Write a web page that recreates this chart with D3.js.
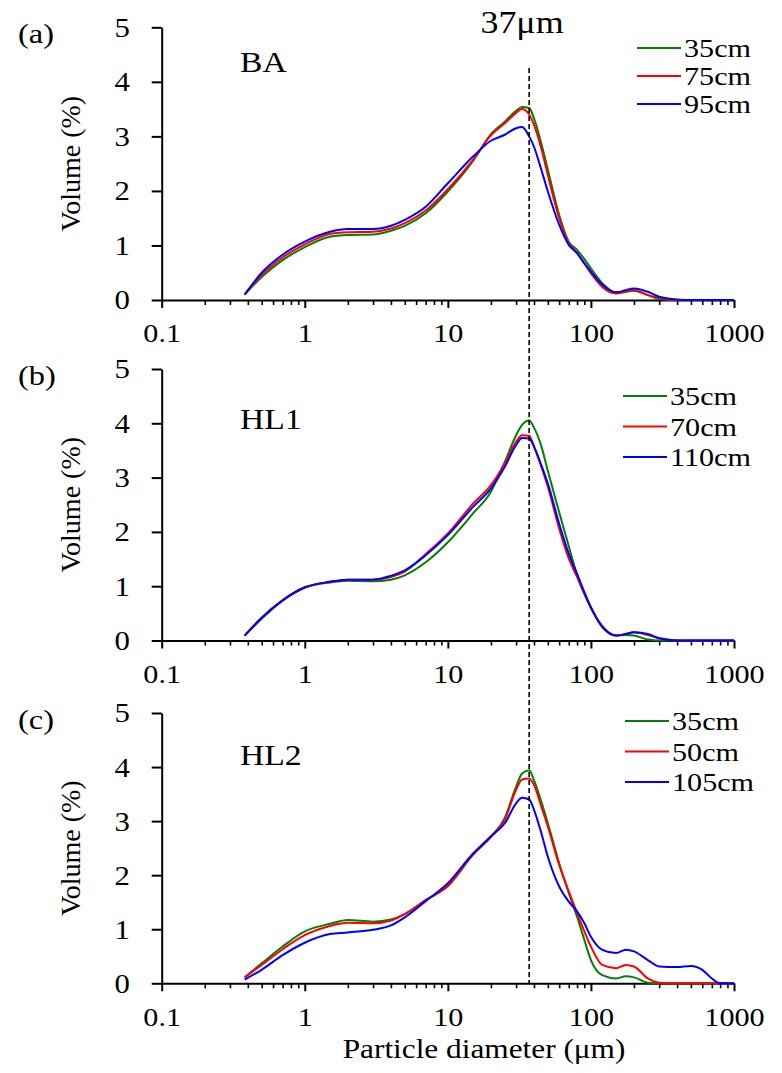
<!DOCTYPE html>
<html>
<head>
<meta charset="utf-8">
<script src="https://cdn.jsdelivr.net/npm/d3@7"></script>
<style>
  body { margin: 0; background: #fff; }
  svg { display: block; font-family: "Liberation Serif", "Times New Roman", serif; }
</style>
</head>
<body>
<script>
// particle diameters (um) where the curves were read
const diameters = [0.38, 0.5, 0.7, 1, 1.5, 2, 3, 4, 5, 7, 10, 15, 20, 25, 30, 33, 37, 40, 45, 50,
  60, 70, 80, 90, 100, 120, 150, 175, 200, 250, 300, 400, 500, 600, 700, 800, 1000];

// (a) BA
const baDepths = ["35cm", "75cm", "95cm"];
const ba35 = [0.10,0.42,0.73,0.97,1.16, 1.19,1.20,1.27,1.36,1.59, 1.99,2.55,3.04,3.27,3.47, 3.54,3.52,3.33,2.87,2.39,
  1.56,1.07,0.92,0.75,0.58, 0.31,0.14,0.15,0.17,0.09, 0.02,0,0,0,0, 0,0];
const ba75 = [0.10,0.46,0.78,1.02,1.21, 1.24,1.25,1.31,1.41,1.64, 2.03,2.57,3.02,3.24,3.43, 3.50,3.40,3.21,2.78,2.29,
  1.50,1.04,0.86,0.67,0.49, 0.24,0.12,0.15,0.18,0.09, 0.04,0,0,0,0, 0,0];
const ba95 = [0.10,0.50,0.83,1.07,1.25, 1.30,1.30,1.36,1.47,1.71, 2.14,2.63,2.92,3.03,3.15, 3.17,3.00,2.81,2.39,1.99,
  1.38,1.01,0.86,0.67,0.52, 0.28,0.14,0.18,0.21,0.15, 0.06,0.01,0,0,0, 0,0];

// (b) HL1
const hl1Depths = ["35cm", "70cm", "110cm"];
const hl1_35 = [0.09,0.40,0.74,0.97,1.07, 1.10,1.09,1.12,1.20,1.44, 1.81,2.34,2.74,3.29,3.78, 3.97,4.05,3.92,3.58,3.12,
  2.36,1.74,1.20,0.86,0.60, 0.27,0.09,0.10,0.09,0.02, 0,0,0,0,0, 0,0];
const hl1_70 = [0.09,0.42,0.74,0.98,1.08, 1.12,1.12,1.17,1.27,1.59, 1.97,2.52,2.86,3.26,3.66, 3.78,3.77,3.57,3.20,2.83,
  2.06,1.51,1.17,0.86,0.61, 0.25,0.09,0.12,0.15,0.10, 0.04,0,0,0,0, 0,0];
const hl1_110 = [0.09,0.42,0.74,0.98,1.08, 1.12,1.12,1.19,1.29,1.57, 1.94,2.46,2.80,3.20,3.60, 3.73,3.72,3.57,3.23,2.89,
  2.15,1.60,1.23,0.89,0.61, 0.25,0.09,0.12,0.15,0.12, 0.04,0,0,0,0, 0,0];

// (c) HL2
const hl2Depths = ["35cm", "50cm", "105cm"];
const hl2_35 = [0.11,0.37,0.68,0.96,1.10, 1.17,1.14,1.18,1.28,1.54, 1.80,2.38,2.71,3.06,3.64, 3.88,3.94,3.76,3.36,2.96,
  2.22,1.67,1.23,0.80,0.43, 0.15,0.09,0.13,0.11,0.01, 0,0,0,0,0, 0,0];
const hl2_50 = [0.11,0.34,0.63,0.89,1.06, 1.12,1.11,1.16,1.28,1.54, 1.80,2.38,2.71,3.03,3.58, 3.77,3.79,3.67,3.27,2.90,
  2.19,1.70,1.30,0.96,0.68, 0.34,0.28,0.34,0.31,0.09, 0.01,0,0,0,0, 0,0];
const hl2_105 = [0.07,0.25,0.52,0.75,0.91, 0.94,0.99,1.07,1.22,1.52, 1.85,2.40,2.72,2.96,3.33, 3.43,3.40,3.21,2.78,2.34,
  1.79,1.51,1.33,1.11,0.86, 0.62,0.56,0.62,0.59,0.43, 0.31,0.30,0.32,0.25,0.09, 0,0];

const xTicks = [0.1, 1, 10, 100, 1000];
const yTicks = [0, 1, 2, 3, 4, 5];
const colors = ["#008000", "#ff0000", "#0000ff"];
const markerSize = 37;

const panels = [
  { tag: "(a)", site: "BA", depths: baDepths, series: [ba35, ba75, ba95],
    top: 27.3, bottom: 300, siteY: 72, legX: 637, legY: 48, legStep: 28 },
  { tag: "(b)", site: "HL1", depths: hl1Depths, series: [hl1_35, hl1_70, hl1_110],
    top: 369, bottom: 640.5, siteY: 429, legX: 623, legY: 396, legStep: 30.5 },
  { tag: "(c)", site: "HL2", depths: hl2Depths, series: [hl2_35, hl2_50, hl2_105],
    top: 713, bottom: 983.3, siteY: 765, legX: 625, legY: 721, legStep: 30.5 }
];

const SX = 1.16; // the original's lettering is a bit wide

const width = 782, height = 1073;
const svg = d3.select("body").append("svg")
    .attr("width", width)
    .attr("height", height);

// text drawn a little wider than normal
function wideText(parent, x, y, str, size, sx = SX) {
  return parent.append("text")
    .attr("transform", `translate(${x},${y}) scale(${sx},1)`)
    .attr("font-size", size)
    .text(str);
}

const x = d3.scaleLog().domain([0.1, 1000]).range([161.7, 734]);

// minor ticks 2..9 per decade
const minorTicks = [];
[0.1, 1, 10, 100].forEach(d => { for (let k = 2; k < 10; k++) minorTicks.push(d * k); });

panels.forEach(p => {
  const y = d3.scaleLinear().domain([0, 5]).range([p.bottom, p.top]);
  const g = svg.append("g");

  // minor x ticks
  g.append("g")
    .attr("transform", `translate(0,${p.bottom})`)
    .call(d3.axisBottom(x).tickValues(minorTicks).tickSize(5).tickSizeOuter(0).tickFormat(""))
    .call(a => a.select(".domain").remove())
    .call(a => a.selectAll("line").attr("stroke-width", 1.6));

  // major x ticks
  g.append("g")
    .attr("transform", `translate(0,${p.bottom})`)
    .call(d3.axisBottom(x).tickValues(xTicks).tickSize(8).tickSizeOuter(0).tickPadding(16)
      .tickFormat(d => String(d)))
    .attr("font-family", null).attr("font-size", null)
    .call(a => a.select(".domain").attr("stroke-width", 2))
    .call(a => a.selectAll("line").attr("stroke-width", 2))
    .call(a => a.selectAll("text").attr("font-size", 26).attr("fill", "#000")
      .attr("transform", `scale(${SX},1)`));

  // y axis
  g.append("g")
    .attr("transform", "translate(161.7,0)")
    .call(d3.axisLeft(y).tickValues(yTicks).tickSize(10).tickSizeOuter(0).tickPadding(19)
      .tickFormat(d3.format("d")))
    .attr("font-family", null).attr("font-size", null)
    .call(a => a.select(".domain").attr("stroke-width", 2))
    .call(a => a.selectAll("line").attr("stroke-width", 2))
    .call(a => a.selectAll("text").attr("font-size", 28).attr("fill", "#000")
      .attr("transform", "scale(1.1,1)"));

  // y title
  g.append("text")
    .attr("transform", `translate(80,${(p.top + p.bottom) / 2}) rotate(-90)`)
    .attr("text-anchor", "middle")
    .attr("font-size", 28)
    .text("Volume (%)");

  // panel tag and site name
  wideText(g, 18, p.top + 16, p.tag, 28);
  wideText(g, 240, p.siteY, p.site, 29);

  // curves
  const line = d3.line()
    .x((d, i) => x(diameters[i]))
    .y(d => y(d))
    .curve(d3.curveMonotoneX);

  p.series.forEach((s, i) => {
    g.append("path")
      .datum(s)
      .attr("fill", "none")
      .attr("stroke", colors[i])
      .attr("stroke-width", 2)
      .attr("d", line);
  });

  // legend
  const leg = g.append("g");
  p.depths.forEach((dep, i) => {
    const ly = p.legY + i * p.legStep;
    leg.append("line")
      .attr("x1", p.legX).attr("x2", p.legX + 44)
      .attr("y1", ly).attr("y2", ly)
      .attr("stroke", colors[i]).attr("stroke-width", 2);
    wideText(leg, p.legX + 47, ly + 9, dep, 26);
  });
});

// 37 um reference line across all panels
svg.append("line")
  .attr("x1", x(markerSize)).attr("x2", x(markerSize))
  .attr("y1", 68).attr("y2", 983.3)
  .attr("stroke", "#000")
  .attr("stroke-width", 1.6)
  .attr("stroke-dasharray", "5,3");

wideText(svg, 522, 33, "37μm", 31).attr("text-anchor", "middle");

// x title
wideText(svg, 484, 1058, "Particle diameter (μm)", 27).attr("text-anchor", "middle");
</script>
</body>
</html>
